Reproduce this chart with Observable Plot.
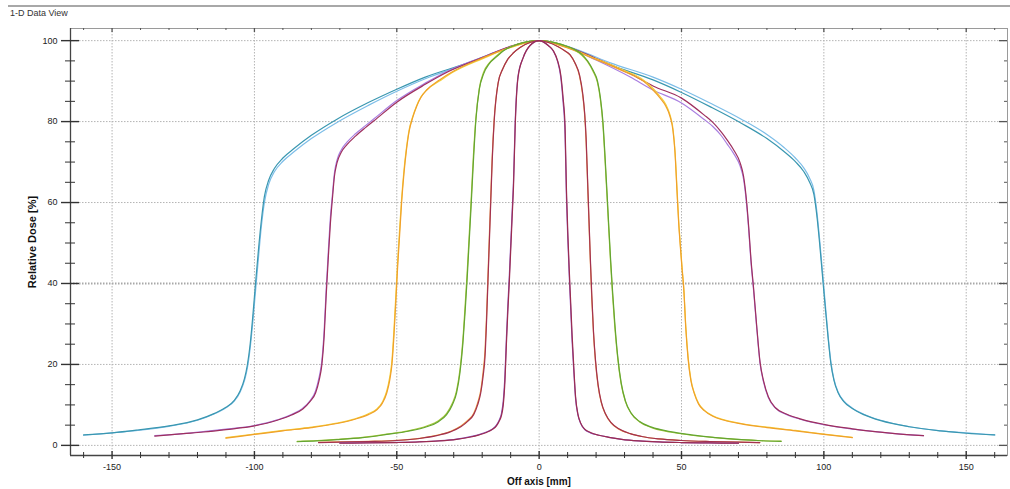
<!DOCTYPE html>
<html><head><meta charset="utf-8">
<script src="https://cdn.jsdelivr.net/npm/d3@7"></script>
<script src="https://cdn.jsdelivr.net/npm/@observablehq/plot@0.6"></script>
<style>
body{margin:0;background:#fff;font-family:"Liberation Sans",Arial,sans-serif;}
#head{position:relative;width:1010px;height:20px;}
#head .rule{position:absolute;left:8px;right:0;top:5px;border-top:2px solid #a8a8a8;}
#head .title{position:absolute;left:10px;top:8px;font-size:9px;line-height:10px;color:#333;}
#chart svg{display:block}
g[aria-label="ylabel"] text{letter-spacing:1.5px}
</style></head><body>
<div id="head"><div class="rule"></div><div class="title">1-D Data View</div></div>
<div id="chart"></div>
<script>
// ---- axis ticks ----
const xDomain = [-164.6, 164.5];
const yDomain = [-2.5, 103];
const xMajor = [-150, -100, -50, 0, 50, 100, 150];
const xMinor = [-160,-140,-130,-120,-110,-90,-80,-70,-60,-40,-30,-20,-10,10,20,30,40,60,70,80,90,110,120,130,140,160];
const yMajor = [0, 20, 40, 60, 80, 100];
const yMinor = [5,10,15,25,30,35,45,50,55,65,70,75,85,90,95];

// ---- 20 cm field (blue pair) ----
const x200 = [-160,-150,-141,-130,-120,-114,-110,-107,-105,-103.5,-102.5,-101.5,-100.5,-99.5,-98.5,-97.5,-96.5,-95,-93,-90,-86,-80,-71,-60,-50,-40,-25,-14,-5,0,5,14,25,40,50,60,71,80,86,90,93,95,96.5,97.5,98.5,99.5,100.5,101.5,102.5,103.5,105,107,110,114,120,130,141,150,160];
const y200a = [2.5,3.1,3.7,4.7,6.2,7.8,9.3,11,13.2,16,19,24,31,39,47,54.5,60,64.5,67.6,70.2,72.6,75.8,79.8,84,87.5,90.6,94.3,97.4,99.5,100,99.6,97.6,94.5,91,88,84.6,80.6,76.8,73.6,71,68.5,66,63,58,51,43,35,27,20.5,16.5,13.2,11,9.2,7.7,6.2,4.6,3.6,3.1,2.6];
const y200b = [2.6,3.1,3.8,4.8,6.3,7.9,9.4,11.2,13.5,16.5,19.8,25,32.5,41,49,56,61.5,65.5,68.4,71,73.4,76.6,80.6,84.7,88,91,94.5,97.5,99.5,100,99.5,97.3,94,90.3,87.2,83.7,79.6,75.8,72.6,70.1,67.6,65,62,57,50,42,34,26.5,20,16.2,13,10.8,9.1,7.6,6.1,4.6,3.6,3.0,2.6];

// ---- 15 cm field (purple pair) ----
const x150 = [-135,-125,-118,-110,-100,-92,-87,-83,-80.5,-78.5,-77.3,-76.3,-75.5,-74.8,-74,-73.3,-72.6,-71.9,-71,-69.5,-67.5,-64.5,-61,-58,-50,-40,-32,-20,-10,0,10,20,32,40,50,58,61,64,66,68.5,70.6,71.8,72.9,73.6,74.4,75.3,76.3,77.6,78.8,80.5,83,87,92,100,110,118,125,135];
const y150a = [2.3,2.9,3.3,3.9,4.8,6.2,7.5,9.0,10.8,13,16,20,27,37,47,55,61,66.5,69.8,72.4,74.3,76.4,78.5,80.2,84.8,89.2,92.3,95.8,98.6,100,98.5,95.6,91.8,88.8,85.8,81.6,79.8,77.4,75.5,72.8,69.8,66.5,60,54,46,39,30.5,20.5,16,12,9.3,7.7,6.5,5.2,4.1,3.4,2.9,2.4];
const y150b = [2.4,2.9,3.4,4.0,4.9,6.3,7.6,9.2,11,13.5,16.8,21,28.5,38.5,48.5,56.5,62,67.3,70.5,73,74.9,77,79,80.7,85.2,89.5,92.5,95.9,98.6,100,98.3,95.2,91,87.8,84.6,80.5,78.8,76.5,74.5,71.9,69,65.8,59.3,53.3,45.3,38.4,30,20.2,15.7,11.8,9.2,7.6,6.4,5.1,4.0,3.4,2.9,2.4];

// ---- 10 cm field (orange pair) ----
const x100 = [-110,-100,-90,-80,-71,-65,-60,-57,-55,-53.5,-52.5,-51.7,-51,-50.3,-49.7,-49,-48.3,-47.5,-46.6,-45.6,-44.5,-43,-41.5,-39.5,-35,-30,-20,-10,0,10,20,24,30,36.6,40,42.5,44.5,46,47,47.7,48.4,49,49.6,50.2,50.8,51.5,52.3,53.3,54.5,56,58,61,65,71,80,90,100,110];
const y100a = [1.8,2.7,3.6,4.4,5.4,6.4,7.6,8.8,10.5,13,16,20,27,36,44,52,60,67,73,77.8,80.8,83.8,86,87.8,90.3,92.5,95.7,98.4,100,98.2,95.3,94.2,92.3,90,87.8,85.8,83.8,81.2,77.8,72.5,63,55,49,43.5,38.5,29,21.5,16,12.8,10.2,8.6,7.2,6.2,5.3,4.4,3.6,2.7,1.9];
const y100b = [1.9,2.8,3.7,4.5,5.5,6.5,7.8,9,10.8,13.5,16.8,21,28.5,37.5,45.5,53.5,61,67.8,73.5,78.2,81,84,86.1,87.8,90,92.3,95.5,98.3,100,98.3,95.5,94.4,92.6,90.3,88.2,86.2,84.2,81.6,78.3,73,63.8,55.7,49.6,44,39,29.5,22,16.3,13,10.4,8.7,7.3,6.3,5.4,4.5,3.7,2.8,2.0];

// ---- 5 cm field (green pair) ----
const x50 = [-85,-78,-71,-62,-53.5,-46,-39.5,-35.5,-32.5,-30.5,-29,-27.8,-26.8,-26,-25.3,-24.6,-23.9,-23.1,-22.2,-21,-19.5,-17.5,-15,-12.5,-8,0,8,12.5,15,17,19,20.5,21.5,22.4,23.1,23.8,24.4,25.1,25.8,26.6,27.6,28.8,30.3,32.3,35.3,39.5,46,53.5,62,71,78,85];
const y50a = [0.9,1.1,1.4,1.9,2.7,3.5,4.6,5.8,7.6,10,13,18,25,33,41,50,59,70,80.5,88,91.8,94.3,96,97.5,99,100,99,97.8,96.6,95,92.6,90,86,80,72,63,55,46,38,30,22,15.5,11,8,5.9,4.5,3.4,2.6,1.9,1.4,1.15,1.0];
const y50b = [1.0,1.2,1.5,2.0,2.8,3.6,4.8,6,7.9,10.4,13.5,18.8,26,34.5,42.5,51.5,60.5,71.5,81,88.3,92.2,94.5,96.2,97.6,99,100,99,97.7,96.4,94.8,92.3,89.6,85.5,79.2,71,62,54,45,37,29,21.5,15.2,10.8,7.9,5.8,4.4,3.3,2.5,1.9,1.4,1.15,1.05];

// ---- 3 cm field (maroon / orange pair) ----
const x30 = [-77.5,-70,-60,-50,-42,-36,-31,-27.5,-25,-23,-21.6,-20.5,-19.7,-19,-18.5,-18,-17.5,-17,-16.5,-15.8,-14.4,-12.8,-11.2,-9,-6.7,-3,0,3,6.7,9,10.9,12.6,14.2,15.3,16,16.5,17,17.5,18,18.5,19.1,19.8,20.7,21.8,23.3,25.3,28,32,36,42,50,60,70,77.5];
const y30a = [0.7,0.8,0.95,1.2,1.7,2.4,3.4,4.6,6,7.6,10,13,17,22,30,40,50,60,70,80,89.5,93,95.2,97,98.3,99.6,100,99.6,98.5,97.5,96.5,94.5,91.5,87,82,76,66,56,46,37,28,21,15,10.8,7.8,5.6,4.1,2.9,2.2,1.6,1.2,0.95,0.8,0.7];
const y30b = [0.75,0.85,1.0,1.25,1.75,2.5,3.5,4.8,6.2,7.9,10.5,13.6,18,23.5,31.5,41.5,51.5,61.5,71,80.5,89.6,93,95.2,97,98.3,99.6,100,99.6,98.5,97.5,96.4,94.4,91.2,86.5,81.5,75,65,55,45,36,27.5,20.5,14.7,10.6,7.7,5.5,4.0,2.9,2.2,1.6,1.2,0.95,0.8,0.7];

// ---- 2 cm field (maroon / purple pair) ----
const x20 = [-70,-60,-50,-42,-35,-29,-24.5,-21,-18.5,-16.5,-15,-14,-13.2,-12.6,-12,-11.5,-11,-10.5,-10,-9.5,-9,-8.4,-7.4,-5.6,-3.2,0,3.2,5,6.5,7.6,8.4,9.1,9.6,10.1,10.6,11.1,11.6,12.2,12.8,13.6,14.6,16,18,21,24.5,29,35,42,50,60,70];
const y20a = [0.55,0.6,0.7,0.85,1.1,1.5,2.0,2.6,3.2,3.9,4.8,6,7.5,10,16,25,33,40,48,56,64,79,91,95.8,98.8,100,98.8,97.5,95,91.5,86,79,63,52,43,35,27,19,12,7.8,5.5,4,3.2,2.5,2,1.5,1.1,0.85,0.7,0.6,0.55];
const y20b = [0.6,0.65,0.75,0.9,1.15,1.55,2.1,2.7,3.3,4.0,5,6.3,8,11,17.5,26.5,34.5,41.5,49.5,57.5,65.5,80,91.3,95.8,98.8,100,98.8,97.4,94.8,91,85,77,61,50.5,41.5,33.5,25.5,18,11.5,7.6,5.4,3.9,3.1,2.5,2,1.5,1.1,0.85,0.7,0.6,0.55];

// series list (drawing order)
const series = [
  {xs: x200, ys: y200a, color: "#7cbde8"},
  {xs: x200, ys: y200b, color: "#3a97b0"},
  {xs: x150, ys: y150b, color: "#a97ee0"},
  {xs: x150, ys: y150a, color: "#9e2f5e"},
  {xs: x100, ys: y100b, color: "#f4d23c"},
  {xs: x100, ys: y100a, color: "#f0a02a"},
  {xs: x50,  ys: y50b,  color: "#a9c83c"},
  {xs: x50,  ys: y50a,  color: "#64a531"},
  {xs: x30,  ys: y30b,  color: "#e8953e"},
  {xs: x30,  ys: y30a,  color: "#a3314f"},
  {xs: x20,  ys: y20b,  color: "#8c55c0"},
  {xs: x20,  ys: y20a,  color: "#9b2c50"}
];

const W = 1010, H = 469, mL = 70, mR = 3, mT = 8, mB = 34;
const fw = W - mL - mR, fh = H - mT - mB;

const lineMarks = series.map(s => Plot.line(s.xs.map((x, i) => ({x, y: s.ys[i]})), {
  x: "x", y: "y", stroke: s.color, strokeWidth: 1.2, curve: "monotone-x"
}));

const gridStyle = {stroke: "#b4b4b4", strokeOpacity: 1, strokeDasharray: "1.5,1.5"};

const chart = Plot.plot({
  width: W, height: H,
  marginLeft: mL, marginRight: mR, marginTop: mT, marginBottom: mB,
  style: {fontFamily: "'Liberation Sans', Arial, sans-serif", color: "#222", background: "#fff"},
  x: {domain: xDomain},
  y: {domain: yDomain},
  marks: [
    Plot.gridX(xMajor, gridStyle),
    Plot.gridY(yMajor.filter(d => d !== 40), gridStyle),
    Plot.gridY([40], {...gridStyle, strokeWidth: 2, stroke: "#a8a8a8"}),
    Plot.frame({stroke: "#9a9a9a"}),
    Plot.ruleX([xDomain[0]], {stroke: "#444", strokeWidth: 1.3}),
    Plot.ruleY([yDomain[0]], {stroke: "#444", strokeWidth: 1.3}),
    // left ticks
    Plot.tickY(yMinor, {insetLeft: -5, insetRight: fw - 5, stroke: "#333"}),
    Plot.tickY(yMajor, {insetLeft: -9, insetRight: fw - 9, stroke: "#333", strokeWidth: 1.4}),
    // right ticks
    Plot.tickY(yMinor, {insetLeft: fw - 3, insetRight: 0, stroke: "#555"}),
    Plot.tickY(yMajor, {insetLeft: fw - 8, insetRight: 0, stroke: "#555", strokeWidth: 1.3}),
    // bottom ticks
    Plot.tickX(xMinor, {insetTop: fh - 3, insetBottom: -3, stroke: "#333"}),
    Plot.tickX(xMajor, {insetTop: fh - 4, insetBottom: -4, stroke: "#333", strokeWidth: 1.4}),
    // top ticks
    Plot.tickX(xMinor, {insetTop: 0, insetBottom: fh - 2, stroke: "#555"}),
    Plot.tickX(xMajor, {insetTop: 0, insetBottom: fh - 4, stroke: "#555", strokeWidth: 1.3}),
    Plot.axisY({ticks: yMajor, tickSize: 0, tickPadding: 13, fontSize: 9, label: null, tickFormat: d => String(d)}),
    Plot.axisX({ticks: xMajor, tickSize: 0, tickPadding: 8, fontSize: 9, label: null, tickFormat: d => String(d)}),
    Plot.text(["Relative Dose [%]"], {frameAnchor: "left", dx: -38, rotate: -90, textAnchor: "middle", lineAnchor: "middle", fontWeight: "bold", fontSize: 11, fill: "#111", ariaLabel: "ylabel"}),
    Plot.text(["Off axis [mm]"], {frameAnchor: "bottom", dy: 26, lineAnchor: "middle", fontWeight: "bold", fontSize: 10, fill: "#111"}),
    ...lineMarks
  ]
});
document.getElementById("chart").appendChild(chart);
</script>
</body></html>
